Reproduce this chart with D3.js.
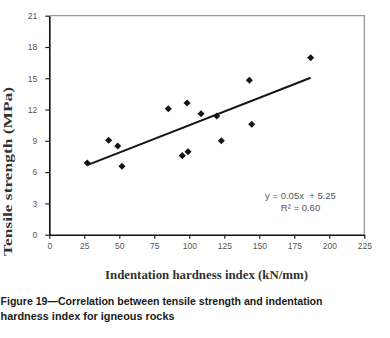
<!DOCTYPE html>
<html>
<head>
<meta charset="utf-8">
<script src="https://cdn.jsdelivr.net/npm/d3@7"></script>
<style>
  html, body { margin: 0; padding: 0; background: #fff; }
  svg { display: block; }
</style>
</head>
<body>
<svg id="chart" width="390" height="338"></svg>
<script>
// Data
const hardness = [27.1, 42.4, 48.9, 51.9, 85.0, 98.4, 95.0, 99.1, 108.4, 119.6, 122.9, 142.9, 144.6, 186.7];
const tensile  = [6.87, 9.05, 8.51, 6.56, 12.08, 12.63, 7.58, 7.96, 11.60, 11.38, 9.01, 14.81, 10.59, 16.97];
const xTicks = [0, 25, 50, 75, 100, 125, 150, 175, 200, 225];
const yTicks = [0, 3, 6, 9, 12, 15, 18, 21];
const equationLines = ["y = 0.05x  + 5.25", "R² = 0.60"];
const xTitle = "Indentation hardness index (kN/mm)";
const yTitle = "Tensile strength (MPa)";
const captionLines = ["Figure 19\u2014Correlation between tensile strength and indentation",
                      "hardness index for igneous rocks"];

const points = hardness.map((h, i) => ({x: h, y: tensile[i]}));

// least-squares trendline computed from the data
const mx = d3.mean(hardness), my = d3.mean(tensile);
const slope = d3.sum(points, p => (p.x - mx) * (p.y - my)) / d3.sum(points, p => (p.x - mx) ** 2);
const intercept = my - slope * mx;
const xExt = d3.extent(hardness);
const trend = xExt.map(x => ({x, y: slope * x + intercept}));

const svg = d3.select("#chart");
const L = 49.3, R = 364.3, T = 15.7, B = 234.7;
const x = d3.scaleLinear().domain([0, 225]).range([L, R]);
const y = d3.scaleLinear().domain([0, 21]).range([B, T]);

const tickColor = "#555";

// frame top / right (gray)
svg.append("path")
  .attr("d", `M${L},${T}H${R}V${B}`)
  .attr("fill", "none").attr("stroke", "#9a9a9a").attr("stroke-width", 1.3);

// x axis
const xa = svg.append("g").attr("transform", `translate(0,${B})`)
  .call(d3.axisBottom(x).tickValues(xTicks).tickSize(4).tickSizeOuter(0).tickPadding(4));
xa.select(".domain").attr("stroke", "#111").attr("stroke-width", 1.6);
xa.selectAll(".tick line").attr("stroke", "#222").attr("stroke-width", 1.2);
xa.selectAll(".tick text").attr("fill", tickColor)
  .style("font-family", "'Liberation Sans', Arial, sans-serif").style("font-size", "8.5px");

// y axis
const ya = svg.append("g").attr("transform", `translate(${L},0)`)
  .call(d3.axisLeft(y).tickValues(yTicks).tickSize(4).tickSizeOuter(0).tickPadding(8));
ya.select(".domain").attr("stroke", "#111").attr("stroke-width", 1.6);
ya.selectAll(".tick line").attr("stroke", "#222").attr("stroke-width", 1.2);
ya.selectAll(".tick text").attr("fill", tickColor)
  .style("font-family", "'Liberation Sans', Arial, sans-serif").style("font-size", "8.5px");

// trendline
svg.append("path")
  .datum(trend)
  .attr("d", d3.line().x(d => x(d.x)).y(d => y(d.y)))
  .attr("fill", "none").attr("stroke", "#151515").attr("stroke-width", 2);

// points (diamonds)
const sym = d3.symbol().type(d3.symbolSquare).size(25);
svg.append("g").selectAll("path").data(points).join("path")
  .attr("d", sym)
  .attr("transform", d => `translate(${x(d.x)},${y(d.y)}) rotate(45)`)
  .attr("fill", "#151515");

// equation
svg.append("g").selectAll("text").data(equationLines).join("text")
  .attr("x", 300.5)
  .attr("y", (d, i) => 199 + i * 12.3)
  .attr("text-anchor", "middle")
  .attr("fill", tickColor)
  .style("font-family", "'Liberation Sans', Arial, sans-serif")
  .style("font-size", "9.5px")
  .style("white-space", "pre")
  .text(d => d);

// axis titles
svg.append("text")
  .attr("x", 105).attr("y", 278.5)
  .attr("textLength", 203).attr("lengthAdjust", "spacingAndGlyphs")
  .attr("fill", "#333")
  .style("font-family", "'Liberation Serif', 'DejaVu Serif', serif")
  .style("font-weight", "bold").style("font-size", "12px")
  .text(xTitle);

svg.append("text")
  .attr("transform", "translate(11.5,256) rotate(-90)")
  .attr("textLength", 169).attr("lengthAdjust", "spacingAndGlyphs")
  .attr("fill", "#333")
  .style("font-family", "'Liberation Serif', 'DejaVu Serif', serif")
  .style("font-weight", "bold").style("font-size", "12px")
  .text(yTitle);

// caption
const capLens = [322, 174];
svg.append("g").selectAll("text").data(captionLines).join("text")
  .attr("x", 0.5)
  .attr("y", (d, i) => 305 + i * 15)
  .attr("textLength", (d, i) => capLens[i]).attr("lengthAdjust", "spacingAndGlyphs")
  .attr("fill", "#1a1a1a")
  .style("font-family", "'Liberation Sans', Arial, sans-serif")
  .style("font-weight", "bold").style("font-size", "11px")
  .text(d => d);
</script>
</body>
</html>
